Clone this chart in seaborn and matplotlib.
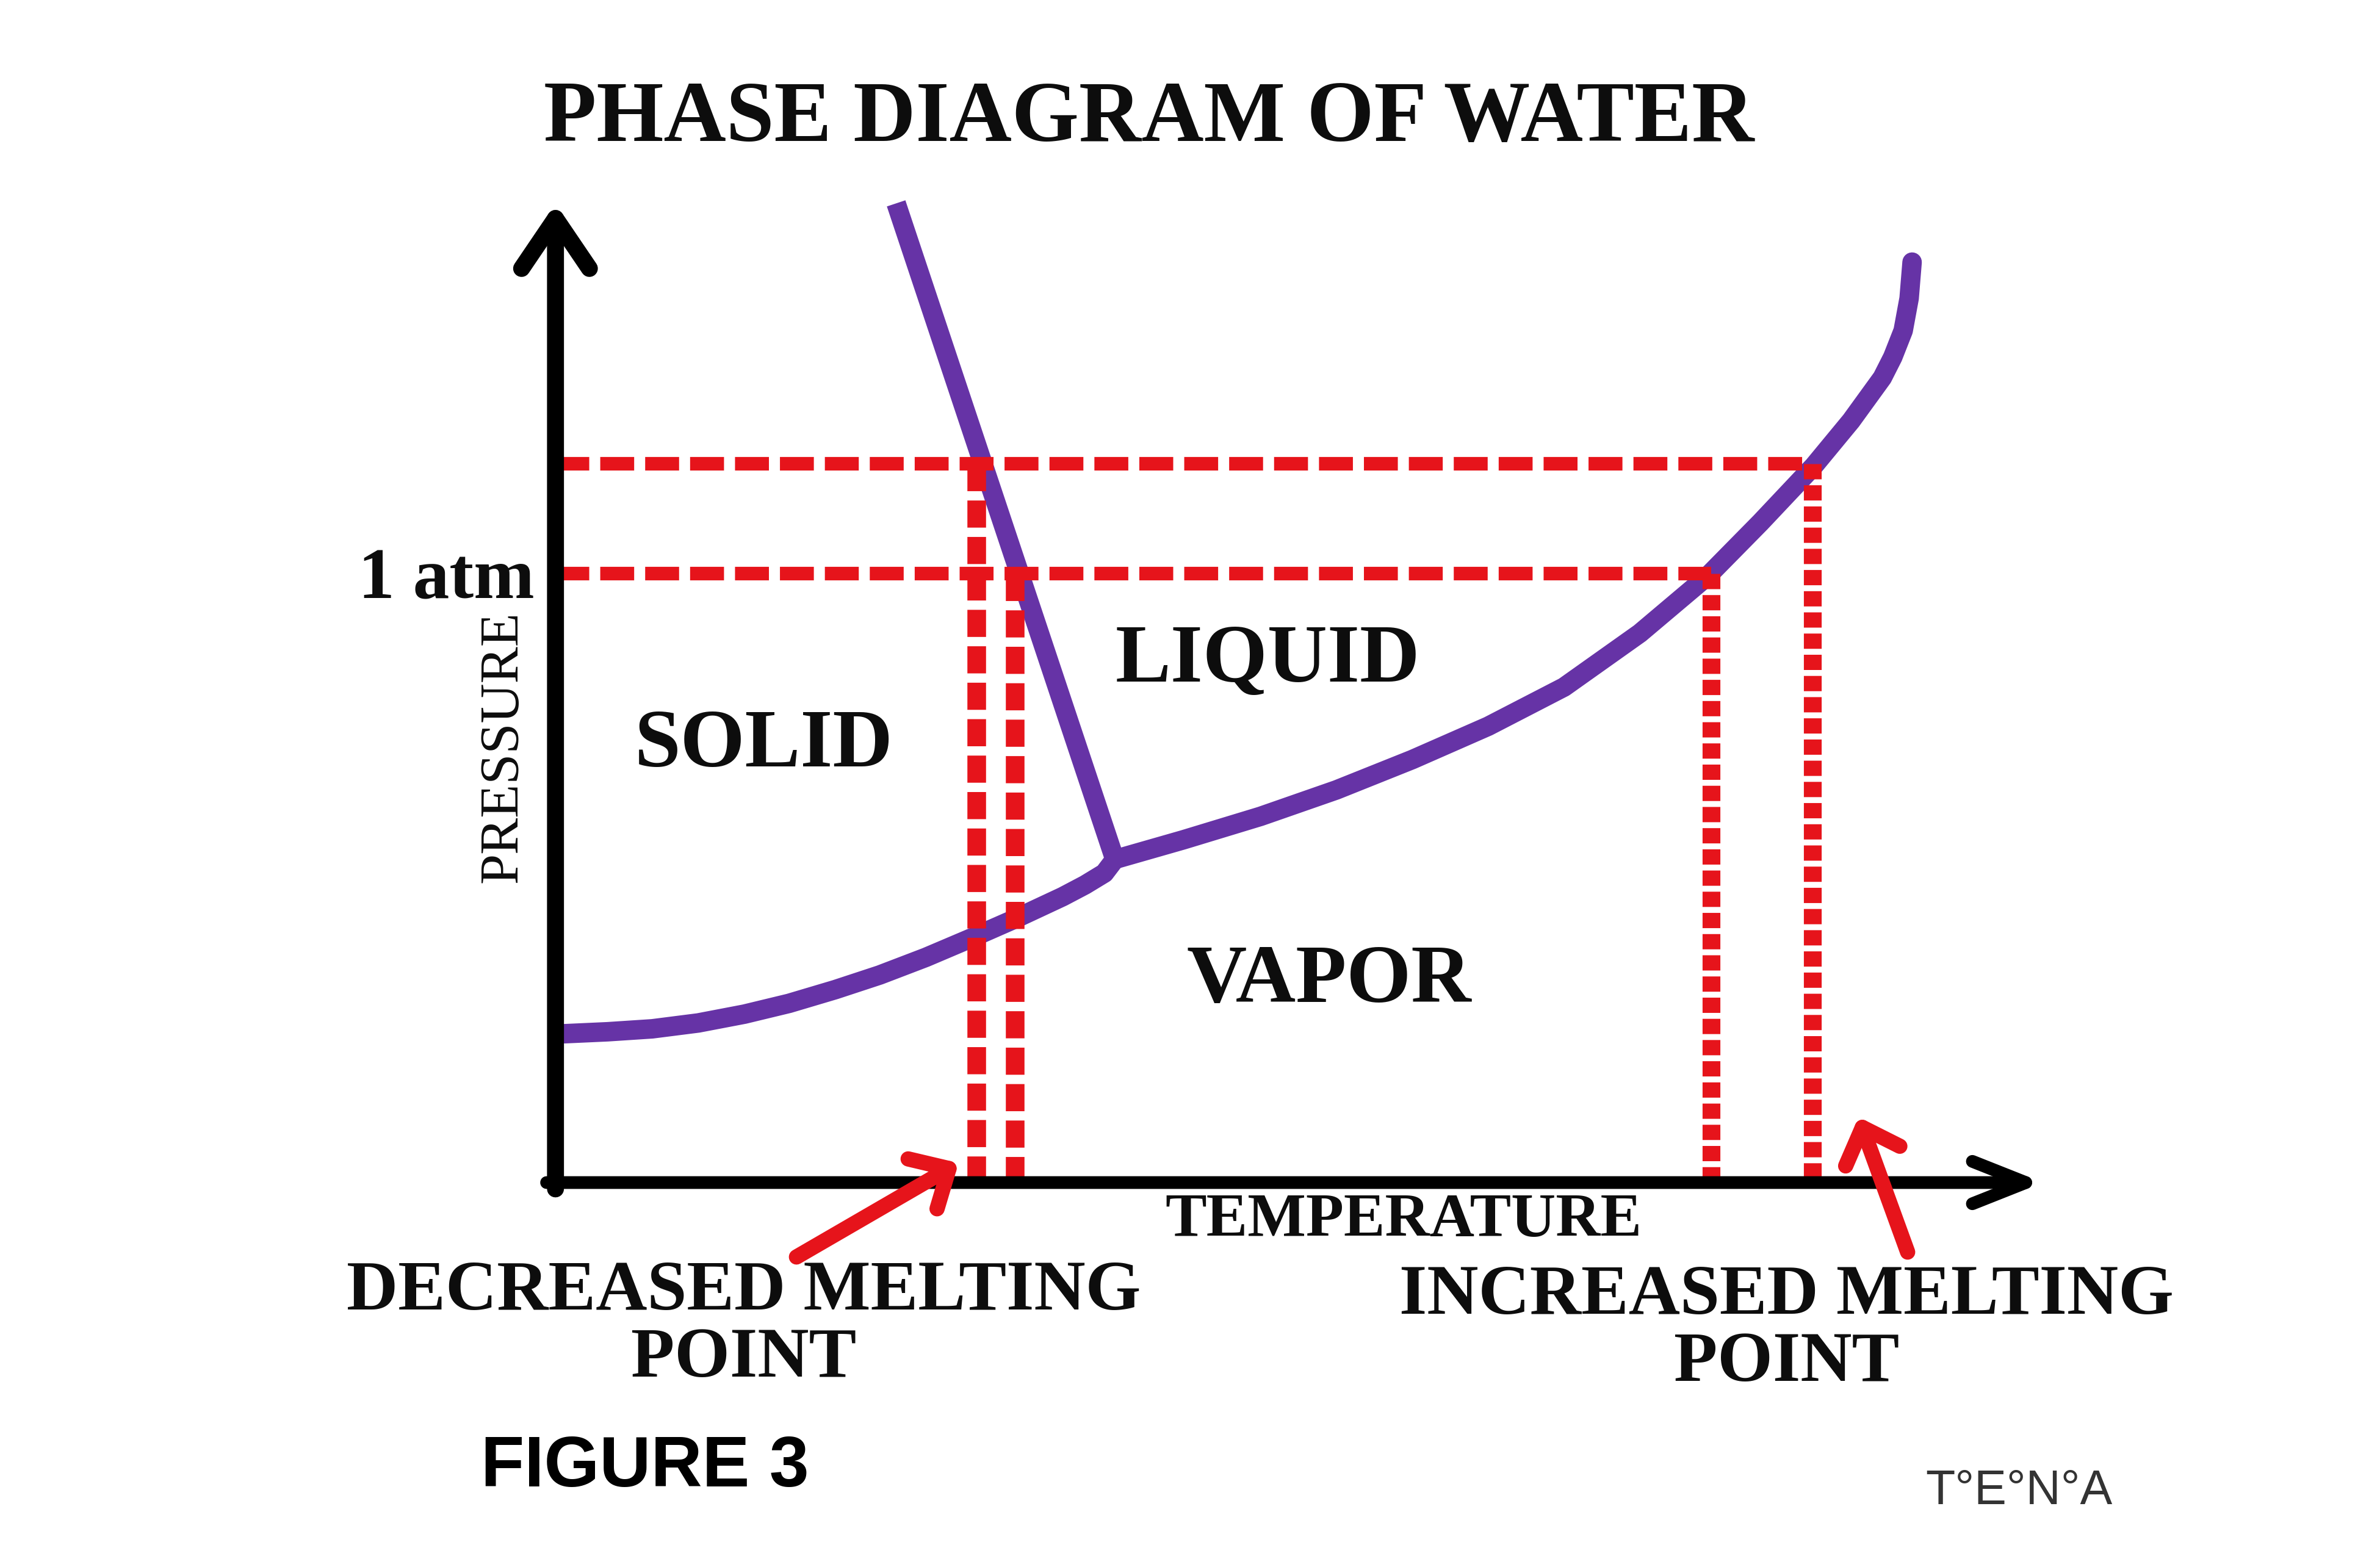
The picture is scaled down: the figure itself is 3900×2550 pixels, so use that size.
import matplotlib
matplotlib.use('Agg')
import matplotlib.pyplot as plt
import seaborn as sns

# phase boundaries, temperature / pressure in arbitrary units (axes run 0-100)
# solid-vapor (sublimation) curve
subl_T = [0.6, 3.5, 6.5, 9.6, 12.7, 15.7, 18.8, 21.8, 24.9, 28.0, 31.0, 34.1, 35.6, 36.9, 37.6]
subl_P = [15.2, 15.4, 15.7, 16.3, 17.2, 18.3, 19.7, 21.2, 23.0, 25.0, 27.0, 29.2, 30.4, 31.6, 33.0]
# solid-liquid (melting) line, from top of chart down to triple point
melt_T = [22.9, 37.6]
melt_P = [100.0, 33.0]
# liquid-vapor (boiling) curve
boil_T = [37.6, 42.2, 47.4, 52.5, 57.6, 62.7, 67.8, 72.9, 77.5, 81.0, 84.6, 87.1, 89.2, 89.9,
          90.6, 91.0, 91.2]
boil_P = [33.0, 35.0, 37.4, 40.1, 43.2, 46.6, 50.6, 56.1, 62.0, 67.4, 73.2, 77.8, 82.2, 84.3,
          87.0, 90.3, 94.0]

# pressure levels (1 atm, higher) and where they cross the two boundaries
p_levels = [62.2, 73.4]
t_melt = [30.9, 28.3]
t_boil = [77.7, 84.5]
p_label = ['1 atm']

PURPLE = '#6633a6'
RED = '#e6141b'
INK = '#0d0d0d'

sns.set_theme(style='white')
plt.rcParams['font.family'] = ['Liberation Serif', 'DejaVu Serif']
plt.rcParams['lines.scale_dashes'] = False

fig = plt.figure(figsize=(39, 25.5), dpi=100)
ax = fig.add_axes([0.2334, 0.24, 0.625, 0.6293])
ax.set_facecolor('none')

# purple phase boundaries
for xs, ys, cap in [(subl_T, subl_P, 'round'), (melt_T, melt_P, 'butt'), (boil_T, boil_P, 'round')]:
    sns.lineplot(x=xs, y=ys, ax=ax, color=PURPLE, linewidth=23, sort=False, estimator=None,
                 solid_capstyle=cap, solid_joinstyle='round', zorder=2, clip_on=False)

# red dashed guides
for p, tm, tb in zip(p_levels, t_melt, t_boil):
    sns.lineplot(x=[0, tb], y=[p, p], ax=ax, color=RED, linewidth=16, sort=False, estimator=None,
                 linestyle=(0, (40, 13)), zorder=3, clip_on=False)
    sns.lineplot(x=[tm, tm], y=[p, 0], ax=ax, color=RED, linewidth=22, sort=False, estimator=None,
                 linestyle=(0, (32, 11)), zorder=3, clip_on=False)
    sns.lineplot(x=[tb, tb], y=[p, 0], ax=ax, color=RED, linewidth=21, sort=False, estimator=None,
                 linestyle=(0, (18, 7)), zorder=3, clip_on=False)

ax.set_xlim(0, 100)
ax.set_ylim(0, 100)
sns.despine(ax=ax, left=True, bottom=True)

# axes drawn as arrows
ax.annotate('', xy=(100, 0), xytext=(-0.6, 0), annotation_clip=False,
            arrowprops=dict(arrowstyle='->,head_length=63,head_width=25', lw=15, color='black',
                            shrinkA=0, shrinkB=0, mutation_scale=1,
                            capstyle='round', joinstyle='round', zorder=4))
ax.annotate('', xy=(0, 100), xytext=(0, -0.65), annotation_clip=False,
            arrowprops=dict(arrowstyle='->,head_length=59,head_width=40', lw=20, color='black',
                            shrinkA=0, shrinkB=0, mutation_scale=1,
                            capstyle='round', joinstyle='round', zorder=4))

# red pointer arrows
for tail, tip in [((16.2, -7.6), (27.1, 2.0)), ((90.9, -7.1), (87.6, 6.7))]:
    ax.annotate('', xy=tip, xytext=tail, annotation_clip=False,
                arrowprops=dict(arrowstyle='->,head_length=36,head_width=34', lw=18, color=RED,
                                shrinkA=0, shrinkB=0, mutation_scale=1,
                                capstyle='round', joinstyle='round', zorder=5))

# ticks and axis labels
ax.set_xticks([])
ax.set_yticks(p_levels[:1], labels=p_label)
ax.tick_params(axis='y', length=0, pad=25, labelsize=86, labelcolor=INK)
for lab in ax.get_yticklabels():
    lab.set_fontweight('bold')

ax.set_xlabel('TEMPERATURE', fontsize=73, fontweight='bold', color=INK)
ax.xaxis.set_label_coords(0.570, -0.0326)
ax.xaxis.label.set_va('center_baseline')
ax.set_ylabel('PRESSURE', fontsize=65, color=INK)
ax.yaxis.set_label_coords(-0.0388, 0.445)
ax.yaxis.label.set_va('center_baseline')

# region labels
for txt, t, p in [('SOLID', 14.0, 45.4), ('LIQUID', 47.9, 54.1), ('VAPOR', 52.0, 21.4)]:
    ax.text(t, p, txt, ha='center', va='center_baseline', fontsize=98, fontweight='bold',
            color=INK)

fig.suptitle('PHASE DIAGRAM OF WATER', x=0.4828, y=0.9288, va='center_baseline',
             fontsize=102, fontweight='bold', color=INK)

fig.text(0.3125, 0.1903, 'DECREASED MELTING\nPOINT', ha='center', va='top', fontsize=84,
         fontweight='bold', linespacing=1.05, color=INK)
fig.text(0.7507, 0.1874, 'INCREASED MELTING\nPOINT', ha='center', va='top', fontsize=84,
         fontweight='bold', linespacing=1.05, color=INK)

fig.text(0.2710, 0.0615, 'FIGURE 3', ha='center', va='center_baseline', fontsize=84,
         fontweight='bold', color='black', family=['Liberation Sans', 'DejaVu Sans'])
fig.text(0.8482, 0.0449, 'T°E°N°A', ha='center', va='center_baseline', fontsize=57,
         color='#333333', family=['Liberation Sans', 'DejaVu Sans'])

fig.savefig('out.png', dpi=100, facecolor='white')
